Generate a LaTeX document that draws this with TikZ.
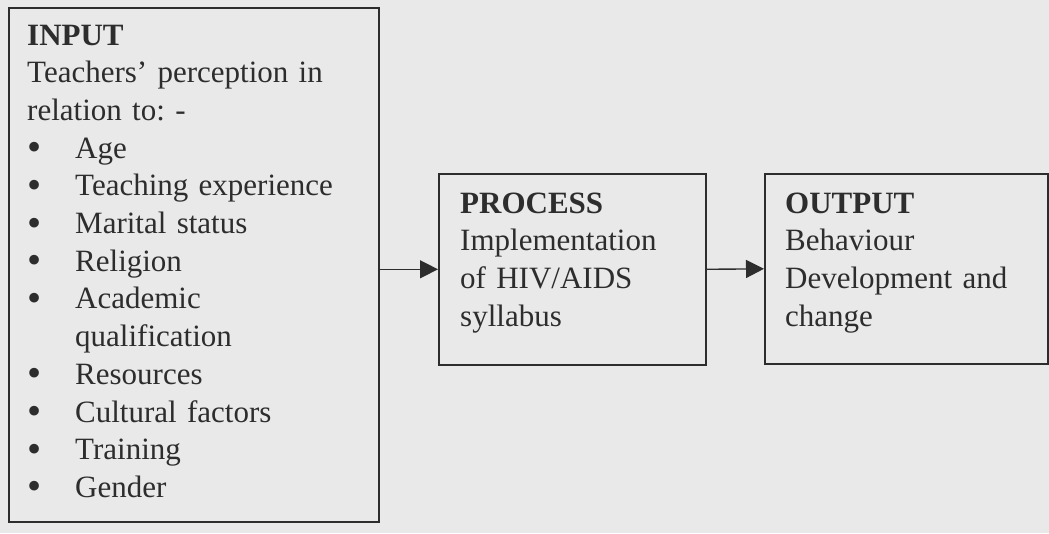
\documentclass[tikz,border=0pt]{standalone}
\usepackage{fontspec}
\setmainfont{Liberation Serif}
\usetikzlibrary{arrows.meta}

\definecolor{pagebg}{RGB}{233,233,233}
\definecolor{inkgray}{RGB}{45,45,45}
\newcommand{\bulletitem}{\makebox[48pt][l]{\raisebox{-2.5pt}{\scalebox{1.3}{\textbullet}}}}
\frenchspacing

\begin{document}
\begin{tikzpicture}[x=1pt, y=-1pt,
    box/.style={draw=inkgray, line width=1.6pt, anchor=north west, inner sep=0pt},
    txt/.style={anchor=base west, inner sep=0pt, align=left, text=inkgray,
      font=\fontsize{31}{37.7}\selectfont},
    flow/.style={draw=inkgray, line width=1.4pt, -{Triangle[length=18pt, width=18pt]}}]

    % page
    \fill[pagebg] (0,0) rectangle (1049,533);
    \useasboundingbox (0,0) rectangle (1049,533);

    % boxes
    \node[box, minimum width=370pt, minimum height=514pt] (input) at (8,7) {};
    \node[box, minimum width=267pt, minimum height=191pt] (process) at (438,173) {};
    \node[box, minimum width=283pt, minimum height=190pt] (output) at (764,173) {};

    % box texts
    \node[txt, text width=345pt] (inputtext) at (27,45) {\textbf{INPUT}\\
      Teachers’ perception in\\
      relation to: -\\
      \bulletitem Age\\
      \bulletitem Teaching experience\\
      \bulletitem Marital status\\
      \bulletitem Religion\\
      \bulletitem Academic\\
      \hspace*{48pt}qualification\\
      \bulletitem Resources\\
      \bulletitem Cultural factors\\
      \bulletitem Training\\
      \bulletitem Gender};
    \node[txt, text width=240pt] (processtext) at (460,213) {\textbf{PROCESS}\\
      Implementation\\
      of HIV/AIDS\\
      syllabus};
    \node[txt, text width=255pt] (outputtext) at (785,213) {\textbf{OUTPUT}\\
      Behaviour\\
      Development and\\
      change};

    % arrows
    \draw[flow] (input.east |- process.west) -- (process.west);
    \draw[flow] (process.east) -- (output.west);
\end{tikzpicture}
\end{document}
